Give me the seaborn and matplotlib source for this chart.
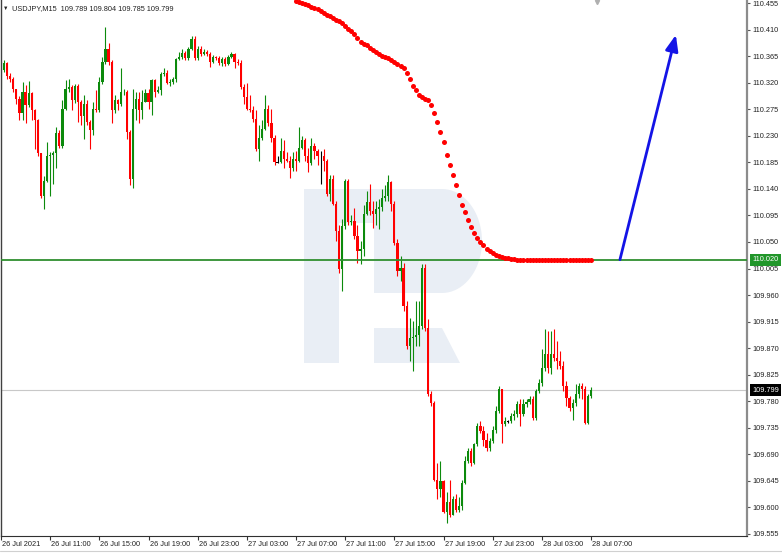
import numpy as np
import pandas as pd
import matplotlib
matplotlib.use("Agg")
import matplotlib.pyplot as plt
import matplotlib.transforms as mtransforms
from matplotlib.patches import Polygon
from matplotlib.lines import Line2D
import seaborn as sns

# ---------------- data ----------------
symbol = "USDJPY,M15"
start_time = "2021-07-26 07:00"
first_open = 110.316

closes = [
    110.341, 110.353, 110.332, 110.327, 110.310, 110.293, 110.268, 110.304, 110.282, 110.302,
    110.273, 110.256, 110.200, 110.128, 110.154, 110.196, 110.198, 110.200, 110.234, 110.212,
    110.276, 110.309, 110.312, 110.290, 110.314, 110.287, 110.264, 110.283, 110.253, 110.239,
    110.276, 110.273, 110.321, 110.355, 110.377, 110.355, 110.273, 110.290, 110.283, 110.304,
    110.305, 110.236, 110.157, 110.276, 110.293, 110.273, 110.288, 110.302, 110.287, 110.324,
    110.304, 110.307, 110.334, 110.336, 110.319, 110.321, 110.327, 110.360, 110.363, 110.370,
    110.361, 110.377, 110.394, 110.361, 110.377, 110.368, 110.372, 110.368, 110.355, 110.363,
    110.361, 110.353, 110.360, 110.351, 110.363, 110.368, 110.355, 110.353, 110.312, 110.295,
    110.276, 110.273, 110.259, 110.208, 110.227, 110.242, 110.276, 110.251, 110.227, 110.185,
    110.185, 110.205, 110.191, 110.188, 110.176, 110.191, 110.188, 110.210, 110.222,
    110.196, 110.183, 110.213, 110.205, 110.196, 110.196, 110.188, 110.132, 110.157, 110.115,
    110.069, 110.004, 110.077, 110.154, 110.083, 110.086, 110.060, 110.035, 110.038, 110.098,
    110.117, 110.103, 110.098, 110.106, 110.110, 110.125, 110.128, 110.151, 110.115, 110.049,
    110.001, 110.006, 109.942, 109.874, 109.887, 109.889, 109.892, 109.908, 110.006, 109.904,
    109.792, 109.777, 109.647, 109.632, 109.644, 109.593, 109.610, 109.588, 109.615,
    109.596, 109.603, 109.641, 109.678, 109.695, 109.675, 109.707, 109.738, 109.729, 109.715,
    109.700, 109.712, 109.732, 109.763, 109.800, 109.741, 109.746, 109.746, 109.755, 109.758,
    109.775, 109.758, 109.775, 109.778, 109.783, 109.751, 109.797, 109.811, 109.836, 109.860,
    109.836, 109.860, 109.853, 109.848, 109.840, 109.806, 109.785, 109.768, 109.777, 109.792,
    109.806, 109.800, 109.743, 109.789, 109.799,
]

highs = [
    110.355, 110.358, 110.355, 110.336, 110.329, 110.310, 110.297, 110.321, 110.316, 110.322,
    110.305, 110.276, 110.259, 110.200, 110.161, 110.219, 110.202, 110.205, 110.244, 110.239,
    110.290, 110.324, 110.326, 110.316, 110.317, 110.317, 110.290, 110.299, 110.290, 110.256,
    110.287, 110.307, 110.329, 110.363, 110.414, 110.387, 110.358, 110.299, 110.293, 110.344,
    110.310, 110.307, 110.239, 110.310, 110.304, 110.304, 110.307, 110.309, 110.310, 110.327,
    110.327, 110.314, 110.338, 110.344, 110.341, 110.327, 110.329, 110.361, 110.372, 110.377,
    110.373, 110.380, 110.399, 110.399, 110.382, 110.382, 110.377, 110.375, 110.372, 110.367,
    110.365, 110.365, 110.363, 110.363, 110.367, 110.372, 110.370, 110.360, 110.358, 110.317,
    110.319, 110.299, 110.280, 110.273, 110.248, 110.256, 110.299, 110.282, 110.276, 110.231,
    110.196, 110.227, 110.222, 110.202, 110.196, 110.202, 110.205, 110.244, 110.229,
    110.227, 110.210, 110.227, 110.217, 110.208, 110.205, 110.208, 110.191, 110.163, 110.163,
    110.120, 110.078, 110.089, 110.157, 110.157, 110.095, 110.108, 110.078, 110.052, 110.112,
    110.137, 110.149, 110.120, 110.120, 110.123, 110.140, 110.146, 110.163, 110.154, 110.120,
    110.055, 110.027, 110.015, 109.950, 109.921, 109.916, 109.950, 109.950, 110.013, 110.013,
    109.919, 109.797, 109.780, 109.675, 109.678, 109.647, 109.627, 109.647, 109.619,
    109.622, 109.617, 109.646, 109.687, 109.700, 109.700, 109.710, 109.743, 109.746, 109.738,
    109.726, 109.717, 109.738, 109.772, 109.806, 109.800, 109.753, 109.749, 109.760, 109.766,
    109.780, 109.783, 109.783, 109.783, 109.789, 109.789, 109.800, 109.817, 109.868, 109.902,
    109.899, 109.899, 109.902, 109.882, 109.865, 109.848, 109.814, 109.789, 109.783, 109.809,
    109.811, 109.811, 109.806, 109.792, 109.804,
]

lows = [
    110.310, 110.338, 110.327, 110.321, 110.304, 110.283, 110.256, 110.256, 110.251, 110.278,
    110.256, 110.208, 110.196, 110.125, 110.106, 110.151, 110.128, 110.149, 110.176, 110.210,
    110.210, 110.273, 110.304, 110.273, 110.285, 110.253, 110.248, 110.225, 110.248, 110.208,
    110.231, 110.270, 110.270, 110.317, 110.351, 110.350, 110.251, 110.268, 110.273, 110.280,
    110.299, 110.225, 110.146, 110.142, 110.256, 110.251, 110.259, 110.287, 110.276, 110.266,
    110.295, 110.302, 110.299, 110.331, 110.317, 110.314, 110.317, 110.321, 110.358, 110.360,
    110.358, 110.358, 110.375, 110.358, 110.358, 110.365, 110.367, 110.365, 110.346, 110.353,
    110.358, 110.350, 110.348, 110.348, 110.350, 110.361, 110.344, 110.350, 110.309, 110.283,
    110.273, 110.270, 110.253, 110.205, 110.188, 110.222, 110.239, 110.246, 110.219, 110.180,
    110.183, 110.183, 110.176, 110.185, 110.159, 110.171, 110.171, 110.185, 110.208,
    110.188, 110.168, 110.180, 110.191, 110.180, 110.149, 110.171, 110.128, 110.120, 110.112,
    110.052, 109.998, 109.967, 110.072, 110.078, 110.078, 110.055, 110.015, 110.013, 110.027,
    110.095, 110.095, 110.074, 110.078, 110.072, 110.103, 110.120, 110.120, 110.103, 110.044,
    109.993, 109.984, 109.933, 109.868, 109.848, 109.831, 109.874, 109.874, 109.902, 109.899,
    109.789, 109.772, 109.644, 109.615, 109.617, 109.590, 109.573, 109.583, 109.588,
    109.593, 109.593, 109.596, 109.639, 109.675, 109.670, 109.673, 109.704, 109.726, 109.704,
    109.695, 109.695, 109.709, 109.726, 109.760, 109.709, 109.738, 109.743, 109.743, 109.749,
    109.753, 109.738, 109.755, 109.770, 109.775, 109.749, 109.749, 109.794, 109.806, 109.831,
    109.828, 109.826, 109.848, 109.834, 109.834, 109.797, 109.772, 109.763, 109.749, 109.772,
    109.785, 109.783, 109.741, 109.741, 109.785,
]

# red dotted indicator, ending on the last bar
indicator = [
    110.458, 110.457, 110.455, 110.453, 110.451, 110.448, 110.446, 110.444, 110.441, 110.438,
    110.435, 110.433, 110.429, 110.427, 110.424, 110.421, 110.416, 110.411, 110.407, 110.402,
    110.395, 110.389, 110.385, 110.383, 110.379, 110.376, 110.372, 110.369, 110.366, 110.363,
    110.361, 110.359, 110.355, 110.352, 110.349, 110.344, 110.336, 110.326, 110.314, 110.307,
    110.299, 110.295, 110.293, 110.290, 110.282, 110.268, 110.254, 110.237, 110.219, 110.197,
    110.180, 110.163, 110.146, 110.129, 110.113, 110.100, 110.088, 110.076, 110.066, 110.057,
    110.050, 110.044, 110.038, 110.035, 110.032, 110.028, 110.027, 110.025, 110.023, 110.022,
    110.021, 110.021, 110.020, 110.020, 110.020, 110.020, 110.020, 110.020, 110.020, 110.020,
    110.020, 110.020, 110.020, 110.020, 110.020, 110.020, 110.020, 110.020, 110.020, 110.020,
    110.020, 110.020, 110.020, 110.020, 110.020, 110.020, 110.020,
]

support_level = 110.020
current_price = 109.799

y_ticks = [110.455, 110.410, 110.365, 110.320, 110.275, 110.230, 110.185, 110.140,
           110.095, 110.050, 110.005, 109.960, 109.915, 109.870, 109.825, 109.780,
           109.735, 109.690, 109.645, 109.600, 109.555]

x_tick_times = ["2021-07-26 07:00", "2021-07-26 11:00", "2021-07-26 15:00", "2021-07-26 19:00",
                "2021-07-26 23:00", "2021-07-27 03:00", "2021-07-27 07:00", "2021-07-27 11:00",
                "2021-07-27 15:00", "2021-07-27 19:00", "2021-07-27 23:00", "2021-07-28 03:00",
                "2021-07-28 07:00"]
x_tick_labels = ["26 Jul 2021", "26 Jul 11:00", "26 Jul 15:00", "26 Jul 19:00", "26 Jul 23:00",
                 "27 Jul 03:00", "27 Jul 07:00", "27 Jul 11:00", "27 Jul 15:00", "27 Jul 19:00",
                 "27 Jul 23:00", "28 Jul 03:00", "28 Jul 07:00"]

# forecast arrow (bar position, price)
arrow_bars = [201.4, 219.6]
arrow_prices = [110.020, 110.401]

# ---------------- build table ----------------
n = len(closes)
times = pd.date_range(start_time, periods=n, freq="15min")
opens = [first_open] + closes[:-1]
df = pd.DataFrame({"time": times, "open": opens, "high": highs, "low": lows, "close": closes})
df["high"] = df[["high", "open", "close"]].max(axis=1)
df["low"] = df[["low", "open", "close"]].min(axis=1)
df["bar"] = np.arange(n)

sns.set_theme(style="white")
plt.rcParams["font.family"] = ["Liberation Sans", "DejaVu Sans"]

W, H = 782, 553
fig = plt.figure(figsize=(W / 100, H / 100), dpi=100)
fig.patch.set_facecolor("white")
ax_l, ax_r, ax_b = 1, 747, 536
ax = fig.add_axes([ax_l / W, (H - ax_b) / H, (ax_r - ax_l) / W, ax_b / H])
ax.set_facecolor("white")

px0, dpx = 0.8, 3.074
ax.set_xlim((ax_l - px0) / dpx, (ax_r - px0) / dpx)
ax.set_ylim(109.5516, 110.4601)

# watermark (decoration, axes-fraction coordinates from pixel layout)
def pa(px, py):
    return ((px - ax_l) / (ax_r - ax_l), 1 - py / ax_b)

wm = "#e9eef5"
ax.add_patch(Polygon([pa(304, 189), pa(339, 189), pa(339, 363), pa(304, 363)],
                     closed=True, transform=ax.transAxes, fc=wm, ec="none", zorder=0))
t = np.linspace(np.pi / 2, -np.pi / 2, 40)
arc = [pa(442 + 40 * np.cos(a), 241 - 52 * np.sin(a)) for a in t]
bowl = [pa(339, 189)] + arc + [pa(374, 293), pa(374, 223), pa(339, 223)]
ax.add_patch(Polygon(bowl, closed=True, transform=ax.transAxes, fc=wm, ec="none", zorder=0))
ax.add_patch(Polygon([pa(374, 328), pa(442, 328), pa(460, 363), pa(374, 363)],
                     closed=True, transform=ax.transAxes, fc=wm, ec="none", zorder=0))

# lines
ax.axhline(current_price, color="#c8c8c8", lw=0.8, zorder=1)
ax.axhline(support_level, color="#2f8f2f", lw=1.3, zorder=3)

# candles
bull, bear, flat = "#0c8a0c", "#ff0000", "#000000"
o = df["open"].to_numpy(); c = df["close"].to_numpy()
cols = np.where(c > o, bull, np.where(c < o, bear, flat))
ax.vlines(df["bar"], df["low"], df["high"], colors=cols, lw=0.8, zorder=2)
body_h = np.maximum(np.abs(c - o), 0.0008)
body_b = np.where(c == o, c - 0.0004, np.minimum(o, c))
ax.bar(df["bar"], body_h, bottom=body_b, width=0.72, color=cols, linewidth=0, zorder=2)

# indicator dots
ind_df = pd.DataFrame({"bar": np.arange(n - len(indicator), n), "value": indicator})
sns.scatterplot(data=ind_df, x="bar", y="value", color="#ff0000", s=13, linewidth=0,
                ax=ax, zorder=4, legend=False)

# arrow
ax.annotate("", xy=(arrow_bars[1], arrow_prices[1]), xytext=(arrow_bars[0], arrow_prices[0]),
            arrowprops=dict(arrowstyle="-|>,head_length=0.8,head_width=0.32",
                            color="#1414e6", lw=2.0, shrinkA=0, shrinkB=0), zorder=5)

# chart shift marker
blend = mtransforms.blended_transform_factory(ax.transData, ax.transAxes)
ax.plot([n + 1.0], [1 - 1.5 / ax_b], marker="v", ms=3, color="#b0b0b0", transform=blend,
        clip_on=False, zorder=6)

# axes styling
ax.spines["top"].set_visible(False)
ax.spines["left"].set_color("#404040"); ax.spines["left"].set_linewidth(1.0)
ax.spines["bottom"].set_color("#303030"); ax.spines["bottom"].set_linewidth(0.8)
ax.spines["right"].set_color("#8c8c8c"); ax.spines["right"].set_linewidth(1.6)

ax.yaxis.tick_right()
ax.set_yticks(y_ticks)
ax.set_yticklabels([f"{v:.3f}" for v in y_ticks])
ax.tick_params(axis="y", which="both", left=False, right=True, direction="out", length=2.3,
               width=0.8, color="#555555", pad=1.6, labelsize=5.3, labelcolor="#222222")

tick_pos = [int(np.where(df["time"] == pd.Timestamp(tt))[0][0]) for tt in x_tick_times]
ax.set_xticks(tick_pos)
ax.set_xticklabels(x_tick_labels, ha="left")
ax.tick_params(axis="x", direction="out", length=3, width=0.8, color="#333333", pad=0.8,
               labelsize=5.3, labelcolor="#222222", bottom=True)
for lab in ax.get_xticklabels():
    lab.set_transform(lab.get_transform() + mtransforms.ScaledTranslation(1 / 100, 0, fig.dpi_scale_trans))
ax.set_xlabel(""); ax.set_ylabel("")
ax.grid(False)

# price boxes on the right axis
yblend = mtransforms.blended_transform_factory(ax.transAxes, ax.transData)
lx = 1 + 5 / (ax_r - ax_l)
ax.text(lx, support_level, f"{support_level:.3f}", transform=yblend, ha="left", va="center",
        fontsize=5.3, color="white", clip_on=False, zorder=7,
        bbox=dict(boxstyle="square,pad=0.32", fc="#21962a", ec="none"))
ax.text(lx, current_price, f"{current_price:.3f}", transform=yblend, ha="left", va="center",
        fontsize=5.3, color="white", clip_on=False, zorder=7,
        bbox=dict(boxstyle="square,pad=0.32", fc="#000000", ec="none"))

# header
last = df.iloc[-1]
fig.text(3 / W, 1 - 8.5 / H, "\u25bc", fontsize=4.0, color="#222222", va="center", ha="left")
fig.text(12 / W, 1 - 8.5 / H,
         f"{symbol}  {last['open']:.3f} {last['high']:.3f} {last['low']:.3f} {last['close']:.3f}",
         fontsize=5.3, color="#222222", va="center", ha="left")

# bottom separator
fig.add_artist(Line2D([0, 1], [1 - 551 / H, 1 - 551 / H], color="#d0d0d0", lw=0.8,
                      transform=fig.transFigure))

fig.savefig("out.png", dpi=100, facecolor="white")
